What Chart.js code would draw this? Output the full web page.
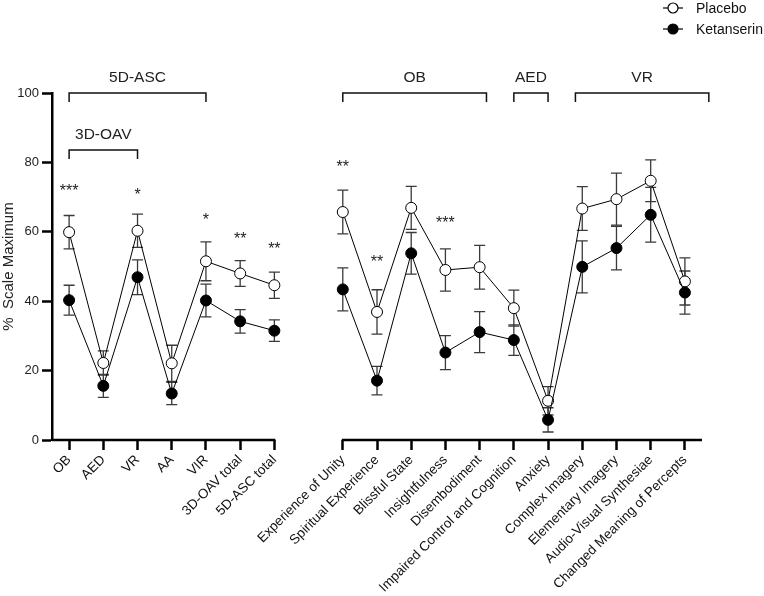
<!DOCTYPE html>
<html>
<head>
<meta charset="utf-8">
<script src="https://cdn.jsdelivr.net/npm/chart.js@4.4.0/dist/chart.umd.min.js"></script>
<style>
  html, body { margin: 0; padding: 0; background: #fff; }
  #wrap { width: 764px; height: 596px; position: relative; }
</style>
</head>
<body>
<div id="wrap"><canvas id="asc"></canvas></div>
<script>
// categories (index 7 is the gap between the two panels)
var labels = ['OB', 'AED', 'VR', 'AA', 'VIR', '3D-OAV total', '5D-ASC total', '',
  'Experience of Unity', 'Spiritual Experience', 'Blissful State', 'Insightfulness',
  'Disembodiment', 'Impaired Control and Cognition', 'Anxiety', 'Complex Imagery',
  'Elementary Imagery', 'Audio-Visual Synthesiae', 'Changed Meaning of Percepts']

var placebo = [59.9, 22.2, 60.3, 22.1, 51.5, 48.0, 44.6, null,
  65.7, 36.9, 66.9, 49.0, 49.8, 38.0, 11.3, 66.7, 69.4, 74.7, 45.7]
var placeboErr = [4.8, 3.5, 4.8, 5.2, 5.6, 3.7, 3.8, null,
  6.3, 6.4, 6.2, 6.1, 6.3, 5.2, 4.1, 6.3, 7.5, 6.0, 6.8]

var ketanserin = [40.3, 15.6, 46.9, 13.4, 40.2, 34.2, 31.5, null,
  43.4, 17.1, 53.8, 25.2, 31.1, 28.8, 5.8, 49.9, 55.3, 64.9, 42.5]
var ketanserinErr = [4.3, 3.3, 5.0, 3.2, 4.7, 3.4, 3.1, null,
  6.2, 4.1, 6.0, 4.9, 5.9, 4.4, 3.5, 7.5, 6.3, 7.9, 6.2]

// significance stars and the value they sit at
var stars = ['***', '', '*', '', '*', '**', '**', '',
  '**', '**', '', '***', '', '', '', '', '', '', '']
var starY = [72.6, 0, 71.6, 0, 64.5, 59, 56, 0,
  79.8, 52.2, 0, 63.6, 0, 0, 0, 0, 0, 0, 0]

// subscale brackets: label, from index, to index, value
var bracketNames = ['5D-ASC', '3D-OAV', 'OB', 'AED', 'VR']
var bracketFrom = [0, 0, 8, 13, 14.8]
var bracketTo = [4, 2, 12.2, 14, 18.7]
var bracketAt = [100, 83.6, 100, 100, 100]

var yTicks = [0, 20, 40, 60, 80, 100]

var FONT = "'Liberation Sans', Arial, sans-serif"

var errorBars = {
  id: 'errorBars',
  beforeDatasetsDraw: function (chart) {
    var ctx = chart.ctx
    var y = chart.scales.y
    var errs = [placeboErr, ketanserinErr]
    ctx.save()
    ctx.strokeStyle = '#3a3a3a'
    ctx.lineWidth = 1.3
    chart.data.datasets.forEach(function (ds, d) {
      var meta = chart.getDatasetMeta(d)
      meta.data.forEach(function (pt, i) {
        var v = ds.data[i]
        var e = errs[d][i]
        if (v === null || e === null) return
        var top = y.getPixelForValue(v + e)
        var bot = y.getPixelForValue(v - e)
        ctx.beginPath()
        ctx.moveTo(pt.x, top); ctx.lineTo(pt.x, bot)
        ctx.moveTo(pt.x - 5.5, top); ctx.lineTo(pt.x + 5.5, top)
        ctx.moveTo(pt.x - 5.5, bot); ctx.lineTo(pt.x + 5.5, bot)
        ctx.stroke()
      })
    })
    ctx.restore()
  }
}

var decorations = {
  id: 'decorations',
  afterDraw: function (chart) {
    var ctx = chart.ctx
    var x = chart.scales.x
    var y = chart.scales.y
    var area = chart.chartArea
    ctx.save()

    // x axis line, broken between the two panels
    ctx.strokeStyle = '#000'
    ctx.lineWidth = 2.5
    ctx.beginPath()
    ctx.moveTo(area.left, area.bottom); ctx.lineTo(x.getPixelForValue(6) + 1, area.bottom)
    ctx.moveTo(x.getPixelForValue(8) - 1, area.bottom); ctx.lineTo(area.right, area.bottom)
    ctx.stroke()

    // stars
    ctx.fillStyle = '#222'
    ctx.font = '16px ' + FONT
    ctx.textAlign = 'center'
    ctx.textBaseline = 'middle'
    stars.forEach(function (s, i) {
      if (!s) return
      ctx.fillText(s, x.getPixelForValue(i), y.getPixelForValue(starY[i]) + 4)
    })

    // brackets
    ctx.lineWidth = 1.5
    ctx.strokeStyle = '#111'
    ctx.font = '15.5px ' + FONT
    ctx.textBaseline = 'alphabetic'
    bracketNames.forEach(function (name, b) {
      var x0 = x.getPixelForValue(bracketFrom[b])
      var x1 = x.getPixelForValue(bracketTo[b])
      var yy = y.getPixelForValue(bracketAt[b])
      ctx.beginPath()
      ctx.moveTo(x0, yy + 9); ctx.lineTo(x0, yy); ctx.lineTo(x1, yy); ctx.lineTo(x1, yy + 9)
      ctx.stroke()
      ctx.fillText(name, (x0 + x1) / 2, yy - 11)
    })

    // legend
    var rows = [[8, chart.data.datasets[0]], [29, chart.data.datasets[1]]]
    ctx.font = '14px ' + FONT
    ctx.textAlign = 'left'
    ctx.textBaseline = 'middle'
    rows.forEach(function (r) {
      var ds = r[1]
      ctx.strokeStyle = '#000'
      ctx.lineWidth = 1.2
      ctx.beginPath()
      ctx.moveTo(663, r[0]); ctx.lineTo(683, r[0])
      ctx.stroke()
      ctx.beginPath()
      ctx.arc(673, r[0], 5, 0, Math.PI * 2)
      ctx.fillStyle = ds.pointBackgroundColor
      ctx.fill()
      ctx.stroke()
      ctx.fillStyle = '#111'
      ctx.fillText(ds.label, 696, r[0] + 1)
    })
    ctx.restore()
  }
}

var ctx = document.getElementById('asc').getContext('2d')
new Chart(ctx, {
  type: 'line',
  data: {
    labels: labels,
    datasets: [
      {
        label: 'Placebo',
        data: placebo,
        borderColor: '#000',
        borderWidth: 1,
        pointRadius: 5.5,
        pointBackgroundColor: '#fff',
        pointBorderColor: '#000',
        pointBorderWidth: 1,
        spanGaps: false,
        order: 1
      },
      {
        label: 'Ketanserin',
        data: ketanserin,
        borderColor: '#000',
        borderWidth: 1,
        pointRadius: 5.5,
        pointBackgroundColor: '#000',
        pointBorderColor: '#000',
        pointBorderWidth: 1,
        spanGaps: false,
        order: 0
      }
    ]
  },
  options: {
    responsive: true,
    maintainAspectRatio: false,
    animation: false,
    layout: { padding: { top: 93, right: 62, bottom: 0, left: 0 } },
    plugins: {
      legend: { display: false },
      tooltip: { enabled: false }
    },
    scales: {
      x: {
        type: 'category',
        offset: true,
        border: { display: false },
        grid: {
          drawOnChartArea: false,
          drawTicks: true,
          tickLength: 10,
          tickWidth: 2.5,
          color: function (c) { return c.index === 7 ? 'rgba(0,0,0,0)' : '#000' }
        },
        ticks: {
          autoSkip: false,
          minRotation: 45,
          maxRotation: 45,
          padding: 2,
          color: '#111',
          font: { family: FONT, size: 13.5 }
        },
        afterFit: function (s) { s.height = 156 }
      },
      y: {
        min: 0,
        max: 100,
        afterBuildTicks: function (s) { s.ticks = yTicks.map(function (v) { return { value: v } }) },
        border: { display: true, color: '#000', width: 2.5 },
        grid: {
          drawOnChartArea: false,
          drawTicks: true,
          tickLength: 10,
          tickWidth: 2.5,
          color: '#000'
        },
        ticks: {
          padding: 3,
          color: '#222',
          font: { family: FONT, size: 13 }
        },
        title: {
          display: true,
          text: '%  Scale Maximum',
          color: '#222',
          padding: 0,
          font: { family: FONT, size: 15 }
        },
        afterFit: function (s) { s.width = 52 }
      }
    }
  },
  plugins: [errorBars, decorations]
})
</script>
</body>
</html>
